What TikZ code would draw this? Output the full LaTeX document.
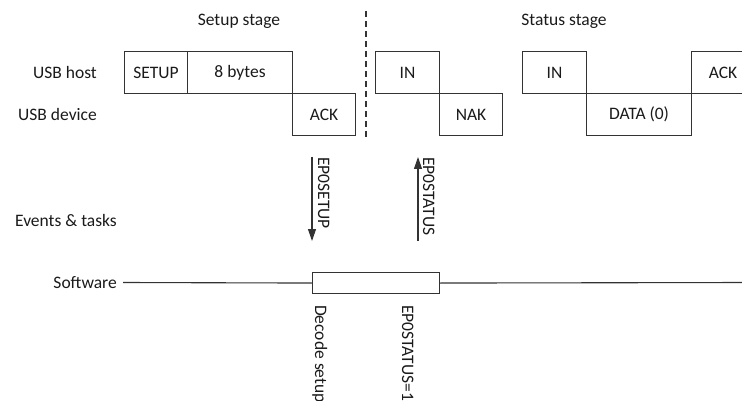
\documentclass[tikz,border=0pt]{standalone}
\usepackage{fontspec}
\setmainfont{Carlito}
\usetikzlibrary{arrows.meta}
\definecolor{lc}{HTML}{333333}
\definecolor{tc}{HTML}{1A1A1A}
\begin{document}
\begin{tikzpicture}[x=1pt,y=-1pt,font=\fontsize{17.5}{21}\selectfont,
  ln/.style={draw=lc,line width=1.1pt},
  box/.style={ln,rectangle,minimum height=42pt,inner sep=0pt,anchor=north west,text=tc},
  lbl/.style={anchor=east,inner sep=0pt,text=tc},
  ttl/.style={inner sep=0pt,text=tc},
  vlbl/.style={rotate=-90,anchor=base west,inner sep=0pt,text=tc},
  evt/.style={ln,-{Triangle[length=12pt,width=8pt]}}]
\useasboundingbox (0,0) rectangle (742,401);
\clip (0,0) rectangle (742,401);
% titles
\node[ttl] (t1) at (239,21) {Setup stage};
\node[ttl] (t2) at (564,21) {Status stage};
% row labels
\node[lbl] (lh) at (97,72) {USB host};
\node[lbl] (ld) at (97,114) {USB device};
\node[lbl] (le) at (117,220) {Events \& tasks};
\node[lbl] (ls) at (117,283) {Software};
% setup stage boxes
\node[box,minimum width=63pt] (setup) at (124,51) {SETUP};
\node[box,minimum width=105pt] (bytes) at (187,51) {8 bytes};
\node[box,minimum width=63pt] (ack1) at (292,93) {ACK};
% divider
\coordinate (d1) at (366,11);
\coordinate (d2) at (366,137);
\draw[ln,dash pattern=on 6pt off 4pt] (d1) -- (d2);
% status stage boxes
\node[box,minimum width=64pt] (in1) at (375,51) {IN};
\node[box,minimum width=63pt] (nak) at (439,93) {NAK};
\node[box,minimum width=64pt] (in2) at (522,51) {IN};
\node[box,minimum width=105pt] (data) at (586,93) {DATA (0)};
\node[box,minimum width=63pt] (ack2) at (691,51) {ACK};
% events
\coordinate (e1a) at (312,157);
\coordinate (e1b) at (312,241);
\draw[evt] (e1a) -- (e1b);
\node[vlbl] (e1l) at (318,157) {EP0SETUP};
\coordinate (e2a) at (418,241);
\coordinate (e2b) at (418,157);
\draw[evt] (e2a) -- (e2b);
\node[vlbl] (e2l) at (423,157) {EP0STATUS};
% software
\node[box,minimum width=127pt,minimum height=21pt] (task) at (312,272) {};
\coordinate (sw0) at (123,282.5);
\coordinate (sw1) at (750,282.5);
\draw[ln] (sw0) -- (task.west);
\draw[ln] (task.east) -- (sw1);
\node[vlbl] (tl1) at (315,305) {Decode setup};
\node[vlbl] (tl2) at (402,305) {EP0STATUS=1};
\end{tikzpicture}
\end{document}
